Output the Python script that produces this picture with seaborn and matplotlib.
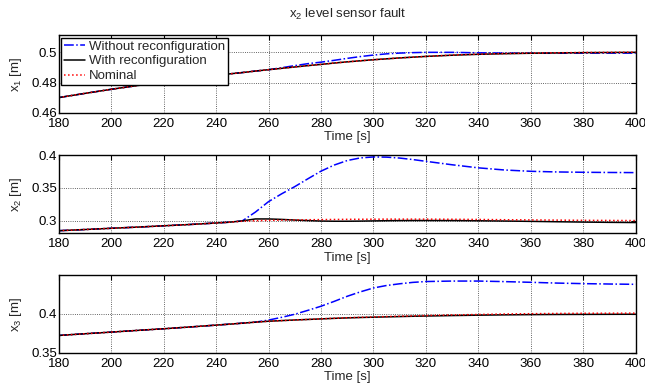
import numpy as np
import pandas as pd
import matplotlib
matplotlib.use("Agg")
import matplotlib.pyplot as plt
import seaborn as sns
from matplotlib.ticker import FuncFormatter

# time grid (s)
t = [180, 190, 200, 210, 220, 230, 240, 245, 250, 255, 260, 265, 270, 275, 280, 285,
     290, 295, 300, 305, 310, 315, 320, 330, 340, 350, 360, 370, 380, 390, 400]

# x1 tank level [m]
x1_without = [0.4700, 0.4728, 0.4755, 0.4780, 0.4803, 0.4825, 0.4848, 0.4857, 0.4866, 0.4876,
              0.4885, 0.4898, 0.4912, 0.4925, 0.4935, 0.4947, 0.4960, 0.4972, 0.4982, 0.4990,
              0.4995, 0.4998, 0.5000, 0.5000, 0.4997, 0.4995, 0.4994, 0.4994, 0.4995, 0.4995, 0.4995]
x1_with = [0.4700, 0.4728, 0.4755, 0.4780, 0.4803, 0.4825, 0.4848, 0.4857, 0.4866, 0.4876,
           0.4885, 0.4894, 0.4903, 0.4912, 0.4920, 0.4929, 0.4937, 0.4944, 0.4951, 0.4957,
           0.4963, 0.4968, 0.4973, 0.4981, 0.4987, 0.4991, 0.4994, 0.4996, 0.4998, 0.4999, 0.5000]
x1_nominal = [0.4700, 0.4728, 0.4755, 0.4780, 0.4803, 0.4825, 0.4848, 0.4857, 0.4866, 0.4876,
              0.4885, 0.4894, 0.4903, 0.4912, 0.4920, 0.4929, 0.4937, 0.4944, 0.4951, 0.4957,
              0.4963, 0.4968, 0.4973, 0.4982, 0.4988, 0.4992, 0.4995, 0.4997, 0.4999, 0.5000, 0.5001]

# x2 tank level [m]
x2_without = [0.2845, 0.2863, 0.2882, 0.2900, 0.2920, 0.2940, 0.2963, 0.2975, 0.2995, 0.3130,
              0.3290, 0.3410, 0.3520, 0.3640, 0.3757, 0.3850, 0.3920, 0.3960, 0.3975, 0.3972,
              0.3958, 0.3935, 0.3908, 0.3855, 0.3808, 0.3775, 0.3755, 0.3745, 0.3740, 0.3737, 0.3735]
x2_with = [0.2845, 0.2863, 0.2882, 0.2900, 0.2920, 0.2940, 0.2963, 0.2975, 0.2995, 0.3025,
           0.3025, 0.3018, 0.3008, 0.3000, 0.2993, 0.2990, 0.2990, 0.2992, 0.2995, 0.2998,
           0.3000, 0.3001, 0.3001, 0.3000, 0.2997, 0.2993, 0.2988, 0.2982, 0.2977, 0.2973, 0.2970]
x2_nominal = [0.2845, 0.2863, 0.2882, 0.2900, 0.2920, 0.2940, 0.2963, 0.2975, 0.2990, 0.2998,
              0.3003, 0.3007, 0.3010, 0.3013, 0.3015, 0.3017, 0.3019, 0.3020, 0.3021, 0.3022,
              0.3022, 0.3022, 0.3022, 0.3020, 0.3017, 0.3013, 0.3010, 0.3007, 0.3004, 0.3002, 0.3000]

# x3 tank level [m]
x3_without = [0.3722, 0.3744, 0.3765, 0.3787, 0.3808, 0.3831, 0.3855, 0.3867, 0.3880, 0.3893,
              0.3920, 0.3955, 0.3995, 0.4045, 0.4098, 0.4160, 0.4226, 0.4283, 0.4333, 0.4365,
              0.4387, 0.4405, 0.4416, 0.4422, 0.4422, 0.4415, 0.4406, 0.4396, 0.4389, 0.4384, 0.4380]
x3_with = [0.3722, 0.3744, 0.3765, 0.3787, 0.3808, 0.3831, 0.3855, 0.3867, 0.3880, 0.3893,
           0.3905, 0.3913, 0.3921, 0.3928, 0.3935, 0.3942, 0.3948, 0.3953, 0.3957, 0.3961,
           0.3965, 0.3969, 0.3972, 0.3978, 0.3983, 0.3987, 0.3990, 0.3992, 0.3993, 0.3994, 0.3995]
x3_nominal = [0.3722, 0.3744, 0.3765, 0.3787, 0.3808, 0.3831, 0.3855, 0.3867, 0.3880, 0.3893,
              0.3905, 0.3913, 0.3921, 0.3928, 0.3936, 0.3943, 0.3950, 0.3955, 0.3960, 0.3965,
              0.3970, 0.3974, 0.3978, 0.3986, 0.3992, 0.3998, 0.4002, 0.4005, 0.4007, 0.4008, 0.4009]

labels = ["Without reconfiguration", "With reconfiguration", "Nominal"]
colors = ["#0000ff", "#000000", "#ff0000"]
styles = ["-.", "-", ":"]

panels = [
    (r"x$_1$ [m]", [x1_without, x1_with, x1_nominal], (0.46, 0.5115), [0.46, 0.48, 0.5]),
    (r"x$_2$ [m]", [x2_without, x2_with, x2_nominal], (0.2805, 0.40), [0.3, 0.35, 0.4]),
    (r"x$_3$ [m]", [x3_without, x3_with, x3_nominal], (0.35, 0.45), [0.35, 0.4]),
]

sns.set_style("white")
plt.rcParams["font.family"] = ["Liberation Sans", "DejaVu Sans"]
plt.rcParams["mathtext.fontset"] = "custom"
plt.rcParams["mathtext.rm"] = "Liberation Sans"
plt.rcParams["mathtext.it"] = "Liberation Sans"
fs = 9.5
plt.rcParams["font.size"] = fs

fig = plt.figure(figsize=(6.45, 3.85), dpi=100)
boxes = [[0.091, 0.7073, 0.8946, 0.2018],
         [0.091, 0.3940, 0.8946, 0.2026],
         [0.091, 0.0839, 0.8946, 0.2018]]

for k, (ylab, series, ylim, yt) in enumerate(panels):
    ax = fig.add_axes(boxes[k])
    for vals, lab, c, ls in zip(series, labels, colors, styles):
        df = pd.DataFrame({"t": t, "v": vals})
        sns.lineplot(data=df, x="t", y="v", ax=ax, color=c, linestyle=ls,
                     linewidth=1.1, label=lab if k == 0 else None, legend=False)
    ax.set_xlim(180, 400)
    ax.set_ylim(*ylim)
    ax.set_xticks(np.arange(180, 401, 20))
    ax.set_yticks(yt)
    ax.yaxis.set_major_formatter(FuncFormatter(lambda v, p: f"{v:g}"))
    ax.grid(True, color="#333333", linestyle=":", linewidth=0.6)
    ax.tick_params(direction="in", top=True, right=True, length=3.5, width=0.8,
                   labelsize=fs, colors="black")
    ax.tick_params(axis="x", pad=3.5)
    ax.tick_params(axis="y", pad=1)
    for s in ax.spines.values():
        s.set_color("black")
        s.set_linewidth(1.0)
    ax.set_xlabel("Time [s]", fontsize=fs, labelpad=1)
    ax.set_ylabel(ylab, fontsize=fs)
    ax.yaxis.set_label_coords(-0.060, 0.5)
    if k == 0:
        ax.set_title(r"x$_2$ level sensor fault", fontsize=fs, pad=12)
        leg = ax.legend(loc="upper left", fontsize=fs, frameon=True, fancybox=False,
                        edgecolor="black", framealpha=1, borderaxespad=0.2,
                        borderpad=0.2, labelspacing=0.2, handlelength=1.6,
                        handletextpad=0.3)
        leg.get_frame().set_linewidth(1.0)

fig.savefig("out.png", dpi=100)
